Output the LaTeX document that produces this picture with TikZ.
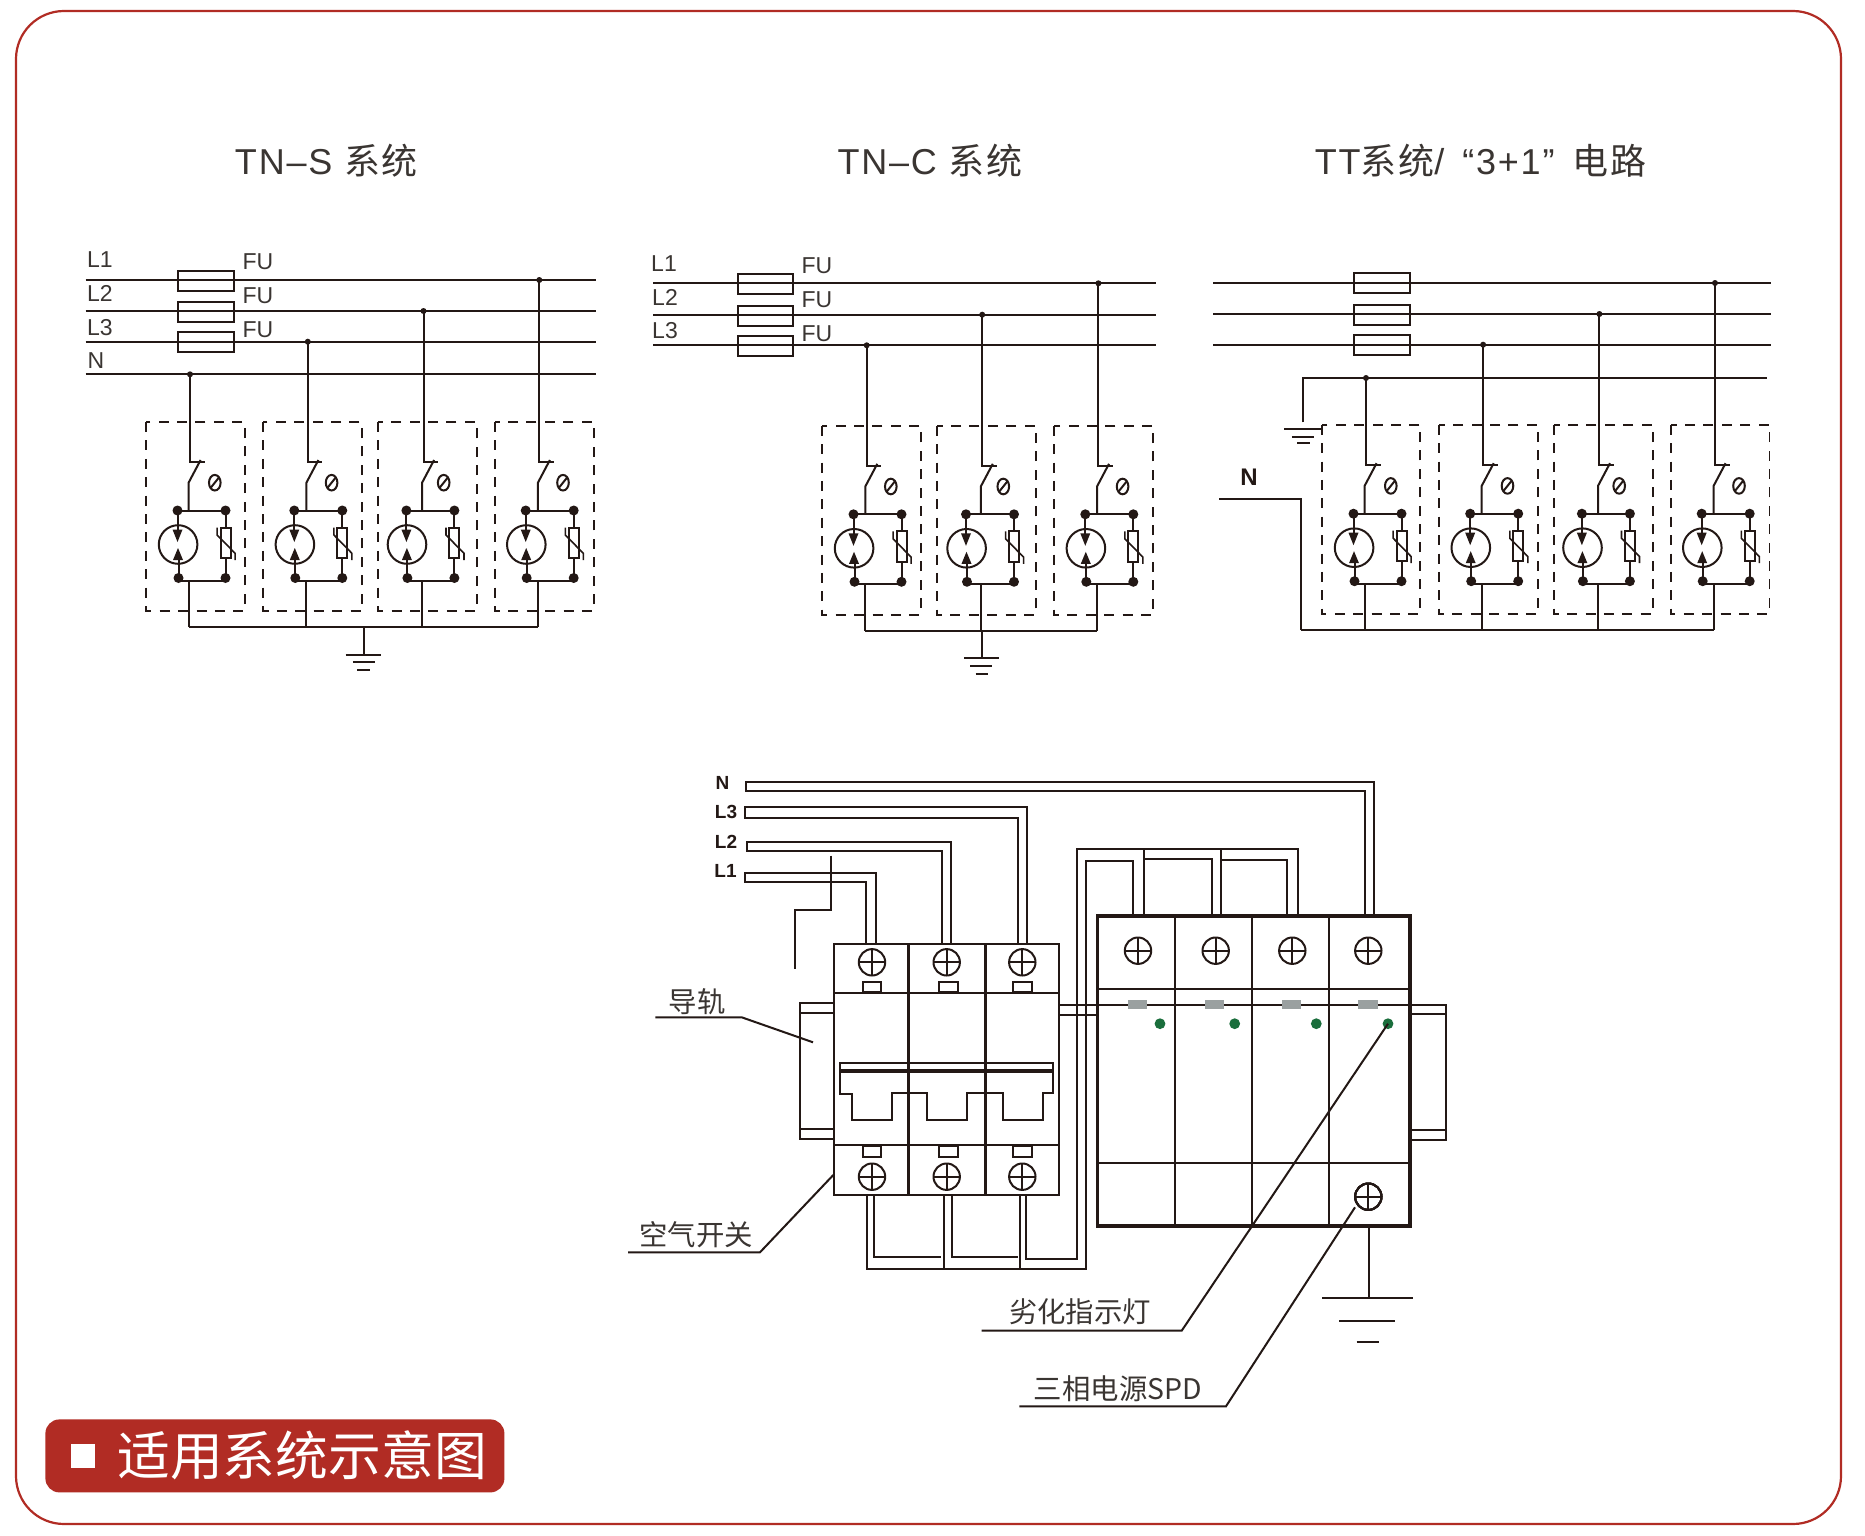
\documentclass[tikz,border=0pt]{standalone}
\usepackage{fontspec}
\setmainfont{Liberation Sans}
\newfontfamily\cjk{Noto Sans CJK SC}
\newfontfamily\titlelat{Liberation Sans}[LetterSpace=5]
\newfontfamily\titlecjk{Noto Sans CJK SC}[LetterSpace=5]
\definecolor{ink}{HTML}{231815}
\definecolor{txt}{HTML}{3A3532}
\definecolor{brand}{HTML}{B12C24}
\definecolor{lampg}{HTML}{1A6E3C}
\definecolor{tabg}{HTML}{9AA0A0}
\tikzset{
  wire/.style={draw=ink,line width=1pt,line join=miter},
  thin wire/.style={draw=ink,line width=.8pt,line join=miter},
  rail/.style={draw=ink,line width=1.05pt},
  fusebox/.style={draw=ink,line width=1pt},
  dashbox/.style={draw=ink,line width=.95pt,dash pattern=on 5pt off 4.2pt},
  pipe/.style={draw=ink,line width=.95pt,line join=miter},
  blk/.style={fill=ink,draw=none},
  lab/.style={text=txt,inner sep=0pt,font=\fontsize{11.5}{12}\selectfont},
  boldlab/.style={text=ink,inner sep=0pt,font=\fontsize{9.5}{10}\selectfont\bfseries},
  cn/.style={text=txt,inner sep=0pt,font=\fontsize{14.2}{15}\selectfont\cjk},
  titlelab/.style={text=txt,inner sep=0pt,font=\fontsize{18}{19}\selectfont\titlelat},
}
% #1 left dot x, #2 top bar y, #3 wire offset, #4 rail y, #5 bus y
\newcommand{\spdmod}[5]{%
  \begin{scope}[shift={(#1,#2)}]
    \draw[wire] (#3+1.4,#4-#2) -- (#3+1.4,-48.8) -- (#3+16,-48.8);
    \fill[blk] (#3+1.4,#4-#2) circle[radius=3];
    \draw[wire] (#3+12,-50.5) -- (#3,-27.8) -- (#3,0);
    \draw[wire] (0,0) -- (48,0);
    \draw[wire] (1,70) -- (48,70);
    \draw[wire] (48,0) -- (48,67.5);
    \draw[wire] (#3,70) -- (#3,#5-#2);
    \draw[wire,fill=white] (.6,34) circle[radius=19.3];
    \fill[blk] (-5,19) -- (5,19) -- (0,31.5) -- cycle;
    \fill[blk] (-4.5,49.5) -- (5.5,49.5) -- (.5,37.5) -- cycle;
    \draw[wire] (0,0) -- (0,20);
    \draw[wire] (1,48) -- (1,67.5);
    \draw[wire,fill=white] (43,17) rectangle (53,47.5);
    \draw[thin wire] (39.6,17) -- (39.6,24.5) -- (57.6,42.8) -- (57.6,49.5);
    \fill[blk] (0,0) circle[radius=5];
    \fill[blk] (48,0) circle[radius=5];
    \fill[blk] (1,67.5) circle[radius=5];
    \fill[blk] (48,67.5) circle[radius=5];
    \draw[wire] (37.3,-27.8) ellipse[x radius=5.8,y radius=7.8];
    \draw[wire] (33.3,-22.8) -- (41.3,-32.8);
  \end{scope}}
\newcommand{\screwhead}[2]{%
  \draw[wire] (#1,#2) circle[radius=13.2];
  \draw[wire] (#1-13.2,#2) -- (#1+13.2,#2);
  \draw[wire] (#1,#2-13.2) -- (#1,#2+13.2);}
\begin{document}
\begin{tikzpicture}[x=.5pt,y=-.5pt]
\useasboundingbox (0,0) rectangle (1865,1536);
\fill[white] (0,0) rectangle (1865,1536);
% frame
\draw[draw=brand,line width=1.1pt,rounded corners=24pt] (16,11) rectangle (1841,1524);
% badge
\node[fill=brand,rounded corners=7pt,minimum width=229.5pt,minimum height=36.5pt,inner sep=0pt,anchor=north west] (badge) at (45,1419) {};
\node[fill=white,minimum width=12pt,minimum height=11.7pt,inner sep=0pt] (badgesq) at (83.4,1456) {};
\node[text=white,inner sep=0pt,font=\fontsize{26.4}{27}\selectfont\cjk] (badgetxt) at (302,1455.5) {适用系统示意图};
% titles
\node[titlelab] (t1) at (326.5,161) {TN–S {\titlecjk 系统}};
\node[titlelab] (t2) at (930,161) {TN–C {\titlecjk 系统}};
\node[titlelab] (t3) at (1480.5,161) {TT{\titlecjk 系统}/ \,“3+1”\, {\titlecjk 电路}};

%%% panel 1
\foreach \ya in {280,311,341.7,374.3} \draw[rail] (85.7,\ya) -- (595.7,\ya);
\draw[fusebox] (178.2,270.7) rectangle (234.3,290.7);
\draw[fusebox] (178.2,302) rectangle (234.3,321.7);
\draw[fusebox] (178.2,332.3) rectangle (234.3,352.3);
\node[lab] (p1a) at (100,260) {L1};
\node[lab] (p1b) at (100,293) {L2};
\node[lab] (p1c) at (100,327.7) {L3};
\node[lab] (p1n) at (96,361) {N};
\node[lab] (p1f) at (258,262) {FU};
\node[lab] (p1g) at (258,295.5) {FU};
\node[lab] (p1h) at (258,329.5) {FU};
\draw[dashbox] (146,422) rectangle (244.6,610.7);
\draw[dashbox] (263.2,422) rectangle (361.8,610.7);
\draw[dashbox] (377.9,422) rectangle (476.8,610.7);
\draw[dashbox] (494.6,422) rectangle (593.6,610.7);
\spdmod{177.5}{510.5}{11.1}{374.3}{626.7}
\spdmod{294.3}{510.5}{12.1}{341.7}{626.7}
\spdmod{406.4}{510.5}{15.7}{311}{626.7}
\spdmod{525.7}{510.5}{12.2}{280}{626.7}
\draw[wire] (188.6,626.7) -- (537.9,626.7);
\draw[wire] (363.6,626.7) -- (363.6,655);
\draw[wire] (345.7,655) -- (381.4,655);
\draw[wire] (352.9,662) -- (375,662);
\draw[wire] (357,670) -- (370,670);

%%% panel 2
\foreach \ya in {283.3,314.7,345.3} \draw[rail] (653.1,\ya) -- (1155.5,\ya);
\draw[fusebox] (737.9,274) rectangle (793.4,294);
\draw[fusebox] (737.9,305.7) rectangle (793.4,325.7);
\draw[fusebox] (737.9,336) rectangle (793.4,356);
\node[lab] (p2a) at (664,264) {L1};
\node[lab] (p2b) at (665,297.3) {L2};
\node[lab] (p2c) at (665,330.7) {L3};
\node[lab] (p2f) at (817,266) {FU};
\node[lab] (p2g) at (817,299.3) {FU};
\node[lab] (p2h) at (817,333.3) {FU};
\draw[dashbox] (822.3,425.7) rectangle (920.9,614.7);
\draw[dashbox] (937,425.7) rectangle (1036,614.7);
\draw[dashbox] (1054,425.7) rectangle (1153.3,614.7);
\spdmod{853.5}{514.3}{11.8}{345.3}{630.7}
\spdmod{966}{514.3}{14.8}{314.7}{630.7}
\spdmod{1085.3}{514.3}{11.7}{283.3}{630.7}
\draw[wire] (864.5,630.7) -- (1097,630.7);
\draw[wire] (982,630.7) -- (982,658.3);
\draw[wire] (964,658.3) -- (999.3,658.3);
\draw[wire] (970.3,665.7) -- (992.4,665.7);
\draw[wire] (975.5,674.3) -- (988,674.3);

%%% panel 3
\foreach \ya in {283,314,344.7} \draw[rail] (1213,\ya) -- (1771.4,\ya);
\draw[fusebox] (1354.2,273.3) rectangle (1410.1,293.3);
\draw[fusebox] (1354.2,304.7) rectangle (1410.1,324.7);
\draw[fusebox] (1354.2,335) rectangle (1410.1,355.3);
\draw[rail] (1302.6,422.3) -- (1302.6,378) -- (1767.2,378);
\draw[wire] (1284.2,429) -- (1321.7,429);
\draw[wire] (1291.8,436.7) -- (1314,436.7);
\draw[wire] (1297.2,442.7) -- (1310.2,442.7);
\node[boldlab,font=\fontsize{12}{13}\selectfont\bfseries] (p3n) at (1249,477.3) {N};
\draw[wire] (1219.1,498.7) -- (1301,498.7) -- (1301,630);
\draw[dashbox] (1321.7,424.7) rectangle (1420.4,614);
\draw[dashbox] (1439.2,424.7) rectangle (1537.9,614);
\draw[dashbox] (1554,424.7) rectangle (1652.7,614);
\draw[dashbox] (1670.7,424.7) rectangle (1769.5,614);
\spdmod{1353.5}{513.7}{11.1}{378}{630}
\spdmod{1470.2}{513.7}{11.5}{344.7}{630}
\spdmod{1581.9}{513.7}{16.1}{314}{630}
\spdmod{1701.7}{513.7}{11.9}{283}{630}
\draw[wire] (1301,630) -- (1713.6,630);

%%% input pipes
\draw[pipe] (1374.3,916) -- (1374.3,782) -- (746.3,782) -- (746.3,790.7) -- (1365.3,790.7) -- (1365.3,916);
\draw[pipe] (1026.7,944) -- (1026.7,806.7) -- (745,806.7) -- (745,817.7) -- (1017.7,817.7) -- (1017.7,944);
\draw[pipe] (951,944) -- (951,841.7) -- (746.7,841.7) -- (746.7,851) -- (942,851) -- (942,944);
\draw[pipe] (876,944) -- (876,872.7) -- (745,872.7) -- (745,882.3) -- (866.3,882.3) -- (866.3,944);
\draw[wire] (830.7,855.7) -- (830.7,910.3) -- (795,910.3) -- (795,969.3);
\node[boldlab] (inN) at (722.5,782.5) {N};
\node[boldlab] (inC) at (726,812) {L3};
\node[boldlab] (inB) at (726,841.5) {L2};
\node[boldlab] (inA) at (725.5,871) {L1};

%%% left rail
\draw[wire] (834,1003.3) -- (800,1003.3) -- (800,1138.7) -- (834,1138.7);
\draw[wire] (800,1013.3) -- (834,1013.3);
\draw[wire] (800,1129.3) -- (834,1129.3);
%%% breaker
\draw[wire] (834,944) rectangle (1059.3,1194.7);
\draw[wire,line width=1.3pt] (908.3,944) -- (908.3,1194.7);
\draw[wire,line width=1.3pt] (985.7,944) -- (985.7,1194.7);
\draw[wire] (834,993.3) -- (1059.3,993.3);
\draw[wire] (834,1145) -- (1059.3,1145);
\foreach \xa in {872,946.7,1022.3} {\screwhead{\xa}{962.3} \screwhead{\xa}{1176.7}}
\foreach \xa/\xb in {862.7/881.3,939/957.7,1012.7/1031.7} {
  \draw[wire] (\xa,981.7) rectangle (\xb,992.3);
  \draw[wire] (\xa,1145.7) rectangle (\xb,1156.7);}
\draw[wire] (840,1062.7) -- (1052.7,1062.7) -- (1052.7,1093) -- (1042.7,1093) -- (1042.7,1120) -- (1003.3,1120) -- (1003.3,1092.7) -- (966.7,1092.7) -- (966.7,1120) -- (926.7,1120) -- (926.7,1092.7) -- (891.7,1092.7) -- (891.7,1120) -- (851.7,1120) -- (851.7,1094) -- (840,1094) -- cycle;
\draw[wire,line width=2pt] (840,1071.3) -- (1052.7,1071.3);
%%% bottom jumpers
\draw[pipe] (867,1194.7) -- (867,1269) -- (1086,1269) -- (1086,860.7) -- (1133.3,860.7) -- (1133.3,916);
\draw[pipe] (874.3,1194.7) -- (874.3,1257) -- (941,1257);
\draw[pipe] (944,1194.7) -- (944,1269);
\draw[pipe] (951.7,1194.7) -- (951.7,1257) -- (1018.3,1257);
\draw[pipe] (1020,1194.7) -- (1020,1269);
\draw[pipe] (1025.7,1194.7) -- (1025.7,1259) -- (1077.3,1259) -- (1077.3,848.7) -- (1144,848.7) -- (1144,916);
%%% top jumpers
\draw[pipe] (1144,848.7) -- (1297.7,848.7) -- (1297.7,916);
\draw[pipe] (1144,859.3) -- (1212,859.3) -- (1212,916);
\draw[pipe] (1220.7,848.7) -- (1220.7,916);
\draw[pipe] (1220.7,860) -- (1287.3,860) -- (1287.3,916);
%%% rail between and right
\draw[wire] (1059.3,1005.3) -- (1097.3,1005.3);
\draw[wire] (1059.3,1015) -- (1097.3,1015);
\draw[wire] (1411.7,1005) -- (1445.7,1005) -- (1445.7,1140) -- (1411.7,1140);
\draw[wire] (1411.7,1014.3) -- (1445.7,1014.3);
\draw[wire] (1411.7,1130) -- (1445.7,1130);
%%% SPD
\draw[draw=ink,line width=1.8pt,fill=white] (1097.3,916) rectangle (1410,1226);
\foreach \xa in {1175,1252.3,1329.3} \draw[wire] (\xa,916) -- (\xa,1226);
\draw[wire] (1097.3,988.7) -- (1410,988.7);
\draw[wire] (1097.3,1005) -- (1410,1005);
\draw[wire] (1097.3,1163.3) -- (1410,1163.3);
\foreach \xa in {1138,1215.7,1292.3,1368.3} \screwhead{\xa}{950.7}
\screwhead{1368.3}{1196.7}
\foreach \xa in {1128,1205,1281.7,1358.3} \fill[tabg] (\xa,1000.3) rectangle +(19.4,8.7);
\fill[lampg] (1160,1023.7) circle[radius=5.4];
\fill[lampg] (1234.7,1023.7) circle[radius=5.4];
\fill[lampg] (1316.3,1023.7) circle[radius=5.4];
\fill[lampg] (1388,1023.7) circle[radius=5.4];
\coordinate (lamp4) at (1388,1023.7);
\coordinate (bscrew) at (1355,1207.3);
%%% earth of SPD
\draw[wire] (1369.3,1226) -- (1369.3,1298.3);
\draw[wire] (1322.3,1298.3) -- (1412.7,1298.3);
\draw[wire] (1339,1320.7) -- (1395,1320.7);
\draw[wire] (1356.7,1341.7) -- (1378.7,1341.7);
%%% leaders
\node[cn] (rl) at (697.3,1002) {导轨};
\draw[wire] (655.3,1017.3) -- (741.7,1017.3) -- (813,1042.3);
\node[cn] (kg) at (696,1235) {空气开关};
\draw[wire] (628,1252.3) -- (760,1252.3) -- (833.3,1175);
\node[cn] (ld) at (1080,1312) {劣化指示灯};
\draw[wire] (981.7,1330.7) -- (1181.7,1330.7) -- (lamp4);
\node[cn] (sp) at (1118,1388.5) {三相电源SPD};
\draw[wire] (1019.3,1406.3) -- (1226,1406.3) -- (bscrew);
\end{tikzpicture}
\end{document}
